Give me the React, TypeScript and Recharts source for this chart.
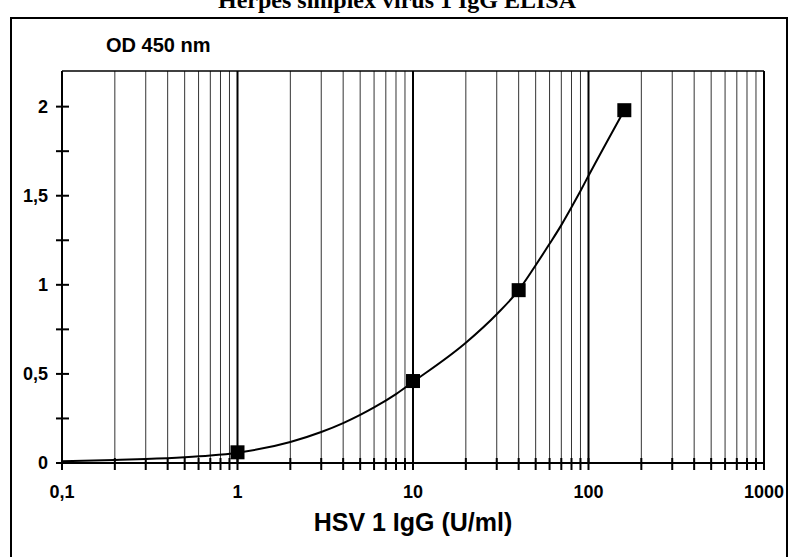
import React from "react";
import {
  ComposedChart,
  Line,
  Scatter,
  XAxis,
  YAxis,
  ReferenceLine,
} from "recharts";

// Measured standards (U/ml vs OD 450 nm)
const standardConc = [1, 10, 40, 160];
const standardOD = [0.06, 0.46, 0.97, 1.98];

// Fitted curve
const curveConc = [0.1, 0.2, 0.3, 0.5, 0.7, 1, 2, 3, 4, 5, 6, 8, 10, 20, 30, 40, 50, 60, 70, 80, 90, 100, 160];
const curveOD = [0.01, 0.017, 0.022, 0.032, 0.042, 0.058, 0.118, 0.174, 0.224, 0.27, 0.312, 0.387, 0.455, 0.675, 0.835, 0.97, 1.11, 1.23, 1.335, 1.435, 1.527, 1.612, 1.98];

// Axis ticks
const xMajorTicks = [0.1, 1, 10, 100, 1000];
const xMajorLabels = ["0,1", "1", "10", "100", "1000"];
const xMinorTicks = [
  0.2, 0.3, 0.4, 0.5, 0.6, 0.7, 0.8, 0.9,
  2, 3, 4, 5, 6, 7, 8, 9,
  20, 30, 40, 50, 60, 70, 80, 90,
  200, 300, 400, 500, 600, 700, 800, 900,
];
const yMajorTicks = [0, 0.5, 1, 1.5, 2];
const yMajorLabels = ["0", "0,5", "1", "1,5", "2"];
const yMinorTicks = [0.25, 0.75, 1.25, 1.75];

const title = "Herpes simplex virus 1 IgG ELISA";
const yTitle = "OD 450 nm";
const xTitle = "HSV 1 IgG (U/ml)";

const curveData = curveConc.map((x, i) => ({ x, y: curveOD[i] }));
const pointData = standardConc.map((x, i) => ({ x, y: standardOD[i] }));

const allXTicks = [...xMajorTicks, ...xMinorTicks].sort((a, b) => a - b);
const allYTicks = [...yMajorTicks, ...yMinorTicks].sort((a, b) => a - b);

const SANS = "'Liberation Sans', Arial, sans-serif";
const SERIF = "'Liberation Serif', 'Times New Roman', serif";

const XTick = (props: any) => {
  const { x, y, payload } = props;
  const idx = xMajorTicks.findIndex((v) => Math.abs(v - payload.value) < 1e-9);
  return (
    <g>
      <line x1={x} y1={y - 5} x2={x} y2={y + 7} stroke="#000" strokeWidth={2} />
      {idx >= 0 && (
        <text
          x={x}
          y={y + 35}
          textAnchor="middle"
          fontFamily={SANS}
          fontWeight="bold"
          fontSize={18}
          fill="#000"
        >
          {xMajorLabels[idx]}
        </text>
      )}
    </g>
  );
};

const YTick = (props: any) => {
  const { x, y, payload } = props;
  const idx = yMajorTicks.findIndex((v) => Math.abs(v - payload.value) < 1e-9);
  return (
    <g>
      <line x1={x - 6} y1={y} x2={x + 7} y2={y} stroke="#000" strokeWidth={2} />
      {idx >= 0 && (
        <text
          x={x - 14}
          y={y + 6}
          textAnchor="end"
          fontFamily={SANS}
          fontWeight="bold"
          fontSize={18}
          fill="#000"
        >
          {yMajorLabels[idx]}
        </text>
      )}
    </g>
  );
};

const SquareShape = (props: any) => {
  const { cx, cy } = props;
  const s = 14;
  return <rect x={cx - s / 2} y={cy - s / 2} width={s} height={s} fill="#000" />;
};

export default function App() {
  return (
    <div
      style={{
        position: "absolute",
        left: 0,
        top: 0,
        width: 794,
        height: 557,
        overflow: "hidden",
        background: "#fff",
      }}
    >
      <div
        style={{
          position: "absolute",
          left: 0,
          width: 794,
          top: -14,
          textAlign: "center",
          fontFamily: SERIF,
          fontWeight: "bold",
          fontSize: 24,
          lineHeight: "28px",
          color: "#000",
        }}
      >
        {title}
      </div>
      <div
        style={{
          position: "absolute",
          left: 10,
          top: 17,
          width: 774,
          height: 600,
          border: "2px solid #000",
        }}
      />
      <div
        style={{
          position: "absolute",
          left: 106,
          top: 33,
          fontFamily: SANS,
          fontWeight: "bold",
          fontSize: 20,
          lineHeight: "24px",
          color: "#000",
        }}
      >
        {yTitle}
      </div>
      <div
        style={{
          position: "absolute",
          left: 263,
          width: 300,
          top: 508,
          textAlign: "center",
          fontFamily: SANS,
          fontWeight: "bold",
          fontSize: 25,
          lineHeight: "28px",
          color: "#000",
          whiteSpace: "nowrap",
        }}
      >
        {xTitle}
      </div>
      <div style={{ position: "absolute", left: 0, top: 0 }}>
        <ComposedChart
          width={794}
          height={557}
          margin={{ top: 71, right: 30, bottom: 54, left: 12 }}
        >
          <XAxis
            dataKey="x"
            type="number"
            scale="log"
            domain={[0.1, 1000]}
            ticks={allXTicks}
            interval={0}
            allowDataOverflow
            height={40}
            tickSize={0}
            tickMargin={0}
            tick={<XTick />}
            tickLine={false}
            axisLine={{ stroke: "#000", strokeWidth: 2 }}
          />
          <YAxis
            dataKey="y"
            type="number"
            domain={[0, 2.2]}
            ticks={allYTicks}
            interval={0}
            allowDataOverflow
            width={50}
            tickSize={0}
            tickMargin={0}
            tick={<YTick />}
            tickLine={false}
            axisLine={{ stroke: "#000", strokeWidth: 2 }}
          />
          {xMinorTicks.map((v) => (
            <ReferenceLine key={"m" + v} x={v} stroke="#333" strokeWidth={1} />
          ))}
          {xMajorTicks.slice(1).map((v) => (
            <ReferenceLine key={"M" + v} x={v} stroke="#000" strokeWidth={2} />
          ))}
          <ReferenceLine y={2.2} stroke="#000" strokeWidth={1.5} />
          <Line
            data={curveData}
            dataKey="y"
            type="monotone"
            stroke="#000"
            strokeWidth={2}
            dot={false}
            activeDot={false}
            isAnimationActive={false}
          />
          <Scatter
            data={pointData}
            dataKey="y"
            fill="#000"
            shape={<SquareShape />}
            isAnimationActive={false}
          />
        </ComposedChart>
      </div>
    </div>
  );
}
